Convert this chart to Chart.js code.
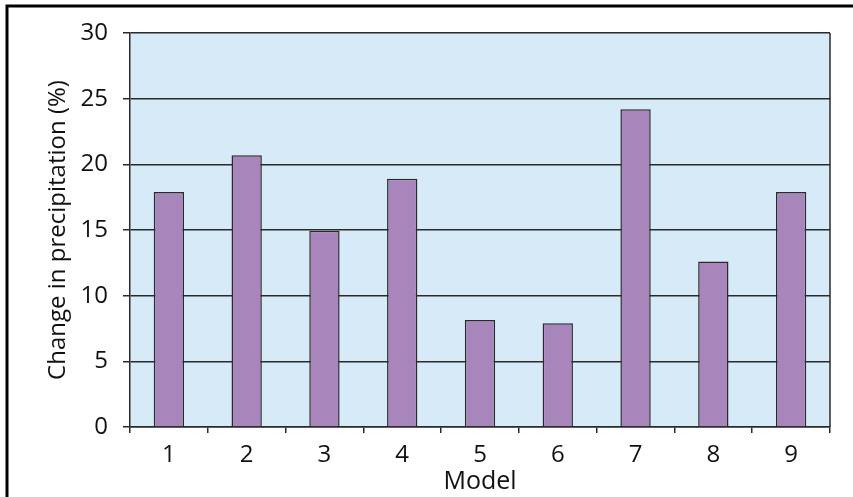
<!DOCTYPE html>
<html>
<head>
<meta charset="utf-8">
<script src="https://cdn.jsdelivr.net/npm/chart.js@4/dist/chart.umd.min.js"></script>
<style>
  html, body { margin: 0; padding: 0; background: #fff; }
  #wrap { width: 853px; height: 497px; position: relative; }
</style>
</head>
<body>
<div id="wrap"><canvas id="GraficaCanvas" width="853" height="497"></canvas></div>
<script>
const modelos = ["1", "2", "3", "4", "5", "6", "7", "8", "9"];
const cambioPrecipitacion = [17.9, 20.7, 14.95, 18.9, 8.15, 7.9, 24.2, 12.6, 17.9];
const ticksY = [0, 5, 10, 15, 20, 25, 30];

const fuente = "'Open Sans', 'DejaVu Sans', sans-serif";
const tinta = "#2a2a2a";

// fondo del área de trazado, marco y borde exterior de la figura
const marcoPlugin = {
  id: "marco",
  beforeDraw(chart) {
    const { ctx, chartArea: a } = chart;
    ctx.save();
    ctx.fillStyle = "#d6eaf8";
    ctx.fillRect(a.left, a.top, a.right - a.left, a.bottom - a.top);
    ctx.strokeStyle = "#000";
    ctx.lineWidth = 3;
    ctx.beginPath();
    ctx.moveTo(7, 497);
    ctx.lineTo(7, 6);
    ctx.lineTo(853, 6);
    ctx.stroke();
    ctx.restore();
  },
  afterDraw(chart) {
    const { ctx, chartArea: a } = chart;
    ctx.save();
    ctx.strokeStyle = tinta;
    ctx.lineWidth = 1.5;
    ctx.beginPath();
    ctx.moveTo(a.right, a.top);
    ctx.lineTo(a.right, a.bottom);
    ctx.stroke();
    ctx.restore();
  },
};

const ctx = document.getElementById("GraficaCanvas").getContext("2d");

new Chart(ctx, {
  type: "bar",
  data: {
    labels: modelos,
    datasets: [
      {
        label: "Change in precipitation",
        data: cambioPrecipitacion,
        backgroundColor: "#a886bb",
        borderColor: tinta,
        borderWidth: 1.5,
        categoryPercentage: 0.39,
        barPercentage: 1.0,
      },
    ],
  },
  options: {
    responsive: false,
    animation: false,
    layout: { padding: { left: 0, top: 33, right: 23, bottom: 0 } },
    plugins: {
      legend: { display: false },
      tooltip: { enabled: false },
    },
    scales: {
      x: {
        grid: {
          offset: true,
          drawOnChartArea: false,
          color: tinta,
          lineWidth: 1.5,
          tickLength: 6,
          tickWidth: 1.5,
        },
        border: { color: tinta, width: 1.5 },
        ticks: { color: "#111", font: { family: fuente, size: 24 }, padding: 8, maxRotation: 0 },
        title: {
          display: true,
          text: "Model",
          color: "#111",
          font: { family: fuente, size: 25 },
          padding: { top: 0, bottom: 0 },
        },
        afterFit(scale) { scale.height = 70; },
      },
      y: {
        min: 0,
        max: 30,
        afterBuildTicks(scale) { scale.ticks = ticksY.map(v => ({ value: v })); },
        grid: {
          color: tinta,
          lineWidth: 1.5,
          tickLength: 7,
        },
        border: { color: tinta, width: 1.5 },
        ticks: { color: "#111", font: { family: fuente, size: 24 }, padding: 15 },
        title: {
          display: true,
          text: "Change in precipitation (%)",
          color: "#111",
          font: { family: fuente, size: 24 },
          padding: { top: 44, bottom: 0 },
        },
        afterFit(scale) { scale.width = 130; },
      },
    },
  },
  plugins: [marcoPlugin],
});
</script>
</body>
</html>
